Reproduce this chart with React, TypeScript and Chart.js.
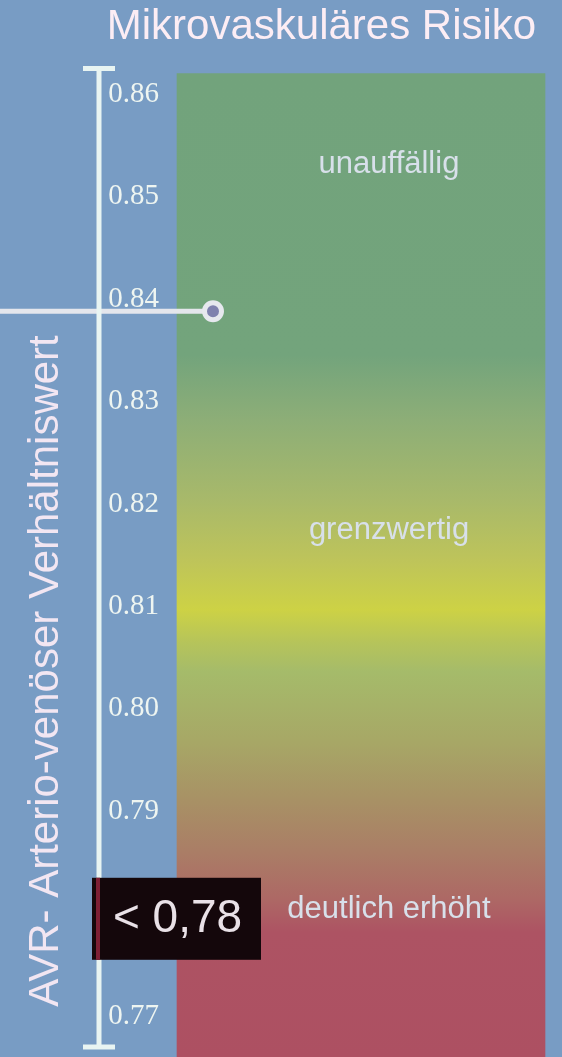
import React, { useEffect, useRef } from 'react';
import { Chart, registerables } from 'chart.js';

Chart.register(...registerables);

// ---- data ----
const TITLE = 'Mikrovaskuläres Risiko';
const AXIS_TITLE = 'AVR- Arterio-venöser Verhältniswert';
const TICK_VALUES = [0.77, 0.78, 0.79, 0.8, 0.81, 0.82, 0.83, 0.84, 0.85, 0.86];
const SCALE_MIN = 0.767;
const SCALE_MAX = 0.8625;
const BAND_LABELS = ['AVR'];
const BAND_RANGE = [0.766, 0.862];
const ZONE_LABELS = ['unauffällig', 'grenzwertig', 'deutlich erhöht'];
const ZONE_VALUES = [0.8523, 0.8166, 0.7796];
const GRADIENT_VALUES = [0.862, 0.8345, 0.8282, 0.8204, 0.8145, 0.8097, 0.8065, 0.8036, 0.797, 0.7911, 0.7862, 0.7814, 0.7782, 0.766];
const GRADIENT_COLORS = ['#72A37C', '#73A47C', '#8DAE77', '#A8B96A', '#BEC45A', '#CDD245', '#B6C45A', '#A5BB6A', '#A7A866', '#A89165', '#AA7E66', '#AD6865', '#AD5363', '#AD5062'];
const MEASURED_VALUE = 0.8388;
const THRESHOLD_VALUE = 0.78;
const THRESHOLD_LABEL = '< 0,78';

// ---- styles ----
const BG = '#789CC4';
const SANS = "'Liberation Sans', Arial, sans-serif";
const SERIF = "'Liberation Serif', 'Times New Roman', serif";
const AXIS_COLOR = '#E8F4F2';

const decorPlugin = {
  id: 'decor',
  beforeDraw(chart: any) {
    const { ctx, width, height } = chart;
    ctx.save();
    ctx.fillStyle = BG;
    ctx.fillRect(0, 0, width, height);
    ctx.restore();
  },
  afterDatasetsDraw(chart: any) {
    const { ctx, chartArea } = chart;
    const ys = chart.scales.y;
    const axisX = ys.left + 1;
    ctx.save();

    // measured value line + marker
    const my = ys.getPixelForValue(MEASURED_VALUE);
    const mx = chartArea.left + 36;
    ctx.strokeStyle = '#E4E6EC';
    ctx.lineWidth = 5;
    ctx.beginPath();
    ctx.moveTo(0, my);
    ctx.lineTo(mx, my);
    ctx.stroke();

    // axis line with caps
    const top = chartArea.top;
    const bottom = chartArea.bottom;
    ctx.strokeStyle = AXIS_COLOR;
    ctx.lineWidth = 5;
    ctx.beginPath();
    ctx.moveTo(axisX, top);
    ctx.lineTo(axisX, bottom);
    ctx.moveTo(axisX - 16, top);
    ctx.lineTo(axisX + 16, top);
    ctx.moveTo(axisX - 16, bottom);
    ctx.lineTo(axisX + 16, bottom);
    ctx.stroke();

    // marker circle
    ctx.beginPath();
    ctx.arc(mx, my, 8.5, 0, Math.PI * 2);
    ctx.fillStyle = '#7F81AE';
    ctx.fill();
    ctx.strokeStyle = '#E6E8EE';
    ctx.lineWidth = 5;
    ctx.stroke();

    // zone labels
    const cx = (chartArea.left + chartArea.right) / 2 + 28;
    ctx.fillStyle = '#D8E0EA';
    ctx.font = `31px ${SANS}`;
    ctx.textAlign = 'center';
    ctx.textBaseline = 'alphabetic';
    ZONE_LABELS.forEach((t, i) => {
      ctx.fillText(t, cx, ys.getPixelForValue(ZONE_VALUES[i]));
    });

    // threshold box
    const ty = ys.getPixelForValue(THRESHOLD_VALUE) + 5;
    const bx = axisX - 7;
    const bw = 169;
    const bh = 82;
    ctx.fillStyle = '#14070B';
    ctx.fillRect(bx, ty - bh / 2, bw, bh);
    ctx.fillStyle = '#7D1F35';
    ctx.fillRect(axisX - 3, ty - bh / 2, 4, bh);
    ctx.fillStyle = '#E9E1E7';
    ctx.font = `46px ${SANS}`;
    ctx.textAlign = 'center';
    ctx.textBaseline = 'middle';
    ctx.fillText(THRESHOLD_LABEL, bx + bw / 2 + 1, ty + 1);

    // y axis title (rotated)
    ctx.translate(46, 671);
    ctx.rotate(-Math.PI / 2);
    ctx.fillStyle = '#F2E6F2';
    ctx.font = `42px ${SANS}`;
    ctx.textAlign = 'center';
    ctx.textBaseline = 'middle';
    ctx.fillText(AXIS_TITLE, 0, 0);

    ctx.restore();
  },
};

function bandGradient(context: any) {
  const chart = context.chart;
  const { chartArea } = chart;
  if (!chartArea) return GRADIENT_COLORS[0];
  const ys = chart.scales.y;
  const y0 = ys.getPixelForValue(GRADIENT_VALUES[0]);
  const y1 = ys.getPixelForValue(GRADIENT_VALUES[GRADIENT_VALUES.length - 1]);
  const g = chart.ctx.createLinearGradient(0, y0, 0, y1);
  GRADIENT_VALUES.forEach((v, i) => {
    const p = (ys.getPixelForValue(v) - y0) / (y1 - y0);
    g.addColorStop(Math.min(1, Math.max(0, p)), GRADIENT_COLORS[i]);
  });
  return g;
}

export default function App() {
  const ref = useRef<HTMLCanvasElement>(null);
  useEffect(() => {
    document.body.style.margin = '0';
    document.body.style.background = BG;
    const chart = new Chart(ref.current as HTMLCanvasElement, {
      type: 'bar',
      data: {
        labels: BAND_LABELS,
        datasets: [
          {
            data: [BAND_RANGE as any],
            backgroundColor: bandGradient as any,
            borderWidth: 0,
            barPercentage: 1,
            categoryPercentage: 1,
            clip: false as any,
          },
        ],
      },
      options: {
        responsive: false,
        animation: false,
        layout: { padding: { left: 98, right: 17, top: 0, bottom: 10 } },
        plugins: {
          legend: { display: false },
          tooltip: { enabled: false },
          title: {
            display: true,
            text: TITLE,
            align: 'center',
            color: '#FCEDF4',
            font: { family: SANS, size: 42, weight: 'normal' },
            padding: { top: 2, bottom: 16 },
          },
        },
        scales: {
          x: { type: 'category', display: false },
          y: {
            type: 'linear',
            position: 'left',
            min: SCALE_MIN,
            max: SCALE_MAX,
            grid: { display: false, drawTicks: false },
            border: { display: false },
            ticks: {
              color: '#EEF5F1',
              font: { family: SERIF, size: 29 },
              padding: 18,
              callback: (v: any) => Number(v).toFixed(2),
            },
            afterBuildTicks: (s: any) => {
              s.ticks = TICK_VALUES.map((v) => ({ value: v }));
            },
            afterFit: (s: any) => {
              s.width = 79;
              s.paddingTop = 0;
              s.paddingBottom = 0;
            },
          },
        },
      },
      plugins: [decorPlugin],
    });
    return () => chart.destroy();
  }, []);
  return (
    <div style={{ width: 562, height: 1057, background: BG }}>
      <canvas ref={ref} width={562} height={1057} style={{ display: 'block' }} />
    </div>
  );
}
